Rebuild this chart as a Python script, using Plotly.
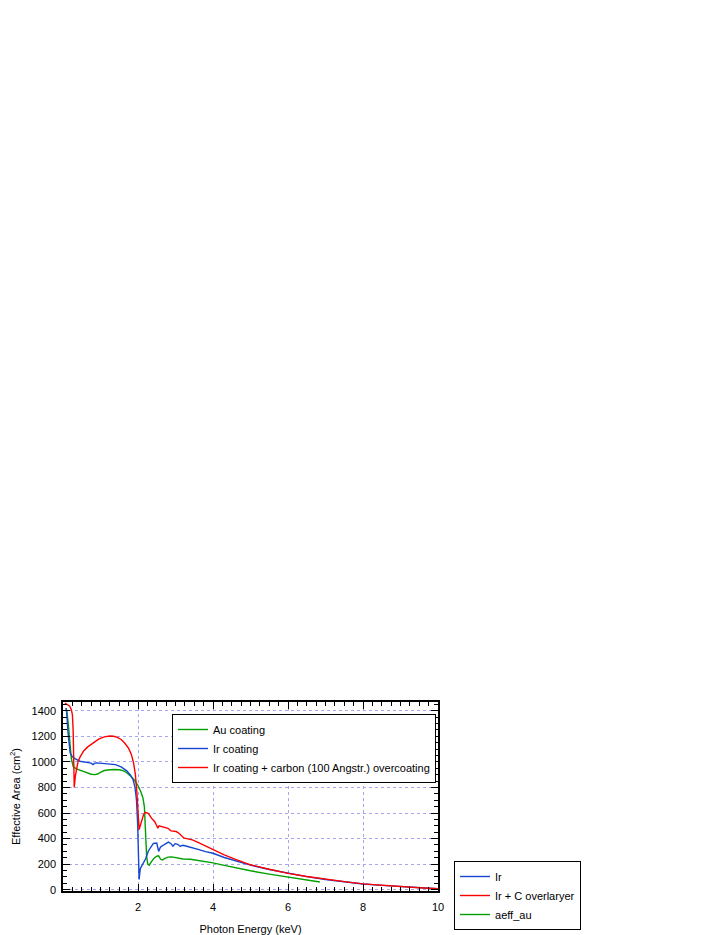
import plotly.graph_objects as go

# ---------------- data ----------------
ir_energy = [0.08, 0.1, 0.13, 0.16, 0.19, 0.25, 0.32, 0.45, 0.6, 0.75, 0.8, 0.85, 0.9, 1.0, 1.2, 1.4,
             1.55, 1.7, 1.8, 1.87, 1.92, 1.96, 1.99, 2.01, 2.03, 2.06, 2.1, 2.15, 2.2, 2.28, 2.35, 2.41,
             2.5, 2.52, 2.55, 2.6, 2.7, 2.81, 2.88, 2.93, 2.99, 3.06, 3.12, 3.2, 3.3, 3.45, 3.6, 3.8,
             4.0, 4.3, 4.6, 5.0, 5.5, 6.0, 6.5, 7.0, 7.5, 8.0, 8.5, 9.0, 9.5, 10.0]
ir_area = [1420, 1380, 1240, 1140, 1070, 1040, 1025, 1005, 995, 990, 978, 990, 992, 990, 985, 978,
           960, 930, 895, 860, 800, 700, 520, 300, 80, 165, 185, 215, 240, 305, 340, 362,
           365, 345, 300, 335, 355, 372, 360, 340, 360, 355, 340, 348, 340, 330, 315, 298,
           285, 252, 225, 192, 158, 127, 102, 80, 62, 45, 34, 24, 15, 8]

irc_energy = [0.05, 0.1, 0.18, 0.22, 0.25, 0.27, 0.28, 0.29, 0.3, 0.33, 0.4, 0.45, 0.55, 0.65, 0.8,
              0.95, 1.1, 1.25, 1.35, 1.45, 1.55, 1.65, 1.75, 1.82, 1.88, 1.93, 1.97, 2.0, 2.03,
              2.06, 2.1, 2.15, 2.2, 2.28, 2.36, 2.45, 2.5, 2.53, 2.56, 2.62, 2.72, 2.8, 2.88, 2.95,
              3.02, 3.1, 3.16, 3.22, 3.3, 3.45, 3.6, 3.8, 4.0, 4.15, 4.3, 4.6, 5.0, 5.5, 6.0, 6.5,
              7.0, 7.5, 8.0, 8.5, 9.0, 9.5, 10.0]
irc_area = [1460, 1450, 1435, 1410, 1370, 1250, 1050, 850, 800, 890, 1000, 1035, 1085, 1115, 1150,
            1178, 1195, 1202, 1200, 1192, 1175, 1145, 1105, 1060, 995, 900, 760, 620, 470,
            500, 540, 590, 605, 595, 560, 530, 500, 480, 500, 495, 490, 480, 460, 455,
            455, 440, 420, 405, 400, 390, 370, 342, 315, 295, 272, 238, 195, 160, 128, 103,
            81, 63, 46, 35, 25, 16, 8]

au_energy = [0.08, 0.1, 0.14, 0.18, 0.22, 0.27, 0.35, 0.45, 0.55, 0.65, 0.75, 0.85, 0.92, 1.0, 1.1,
             1.2, 1.35, 1.5, 1.62, 1.7, 1.78, 1.85, 1.92, 2.0, 2.07, 2.13, 2.17, 2.19, 2.21, 2.23,
             2.26, 2.3, 2.35, 2.42, 2.5, 2.55, 2.6, 2.65, 2.72, 2.8, 2.9, 3.0, 3.1, 3.2, 3.4, 3.6,
             3.8, 4.0, 4.3, 4.6, 5.0, 5.5, 6.0, 6.4, 6.85]
au_area = [1420, 1400, 1300, 1180, 1030, 965, 945, 935, 925, 912, 903, 900, 905, 918, 932,
           936, 940, 938, 930, 915, 895, 875, 850, 815, 770, 720, 650, 520, 380, 260,
           200, 192, 215, 245, 262, 265, 240, 232, 245, 255, 257, 250, 245, 240, 238, 230,
           220, 210, 190, 170, 148, 122, 98, 80, 60]

legend1_names = ["Au coating", "Ir coating", "Ir coating + carbon (100 Angstr.) overcoating"]
legend2_names = ["Ir", "Ir + C overlaryer", "aeff_au"]

x_tickvals = [2, 4, 6, 8, 10]
y_tickvals = [0, 200, 400, 600, 800, 1000, 1200, 1400]

GREEN = "rgb(0,160,0)"
BLUE = "rgb(20,70,210)"
RED = "rgb(255,0,0)"
FONT = "Liberation Sans, Arial, Helvetica, sans-serif"

fig = go.Figure()

# main traces (legend 1)
fig.add_trace(go.Scatter(x=au_energy, y=au_area, mode="lines", name=legend1_names[0],
                         line=dict(color=GREEN, width=1.4), legend="legend"))
fig.add_trace(go.Scatter(x=ir_energy, y=ir_area, mode="lines", name=legend1_names[1],
                         line=dict(color=BLUE, width=1.4), legend="legend"))
fig.add_trace(go.Scatter(x=irc_energy, y=irc_area, mode="lines", name=legend1_names[2],
                         line=dict(color=RED, width=1.4), legend="legend"))

# legend-only entries for second legend
for nm, col in zip(legend2_names, [BLUE, RED, GREEN]):
    fig.add_trace(go.Scatter(x=[None], y=[None], mode="lines", name=nm,
                             line=dict(color=col, width=1.4), legend="legend2"))

axis_common = dict(
    showline=True, linecolor="black", linewidth=1.5, mirror="allticks",
    ticks="inside", tickcolor="black", tickwidth=1, ticklen=7,
    showgrid=True, gridcolor="rgb(165,165,240)", griddash="dot", gridwidth=1,
    zeroline=False, tickfont=dict(family=FONT, size=11, color="black"),
    automargin=False,
)

fig.update_xaxes(
    **axis_common,
    range=[0, 10], tickmode="array", tickvals=x_tickvals,
    minor=dict(dtick=0.25, ticks="inside", ticklen=4, tickcolor="black", showgrid=False),
    ticklabelstandoff=5,
    title=dict(text="Photon Energy (keV)", font=dict(family=FONT, size=11, color="black"), standoff=13),
)
fig.update_yaxes(
    **axis_common,
    range=[-10, 1468], tickmode="array", tickvals=y_tickvals,
    minor=dict(dtick=50, ticks="inside", ticklen=4, tickcolor="black", showgrid=False),
    ticklabelstandoff=3,
    title=dict(text="Effective Area (cm<sup>2</sup>)", font=dict(family=FONT, size=11, color="black"), standoff=18),
)

fig.update_layout(
    width=715, height=927,
    margin=dict(l=55, r=285, t=694, b=44, pad=0, autoexpand=False),
    plot_bgcolor="white", paper_bgcolor="white",
    font=dict(family=FONT, size=11, color="black"),
    legend=dict(x=0.2907, y=0.9365, xanchor="left", yanchor="top",
                bgcolor="white", bordercolor="black", borderwidth=1,
                font=dict(family=FONT, size=11, color="black"), tracegroupgap=0),
    legend2=dict(x=1.0427, y=0.1587, xanchor="left", yanchor="top",
                 bgcolor="white", bordercolor="black", borderwidth=1,
                 font=dict(family=FONT, size=11, color="black"), tracegroupgap=0),
)

fig.write_html("out.html")
